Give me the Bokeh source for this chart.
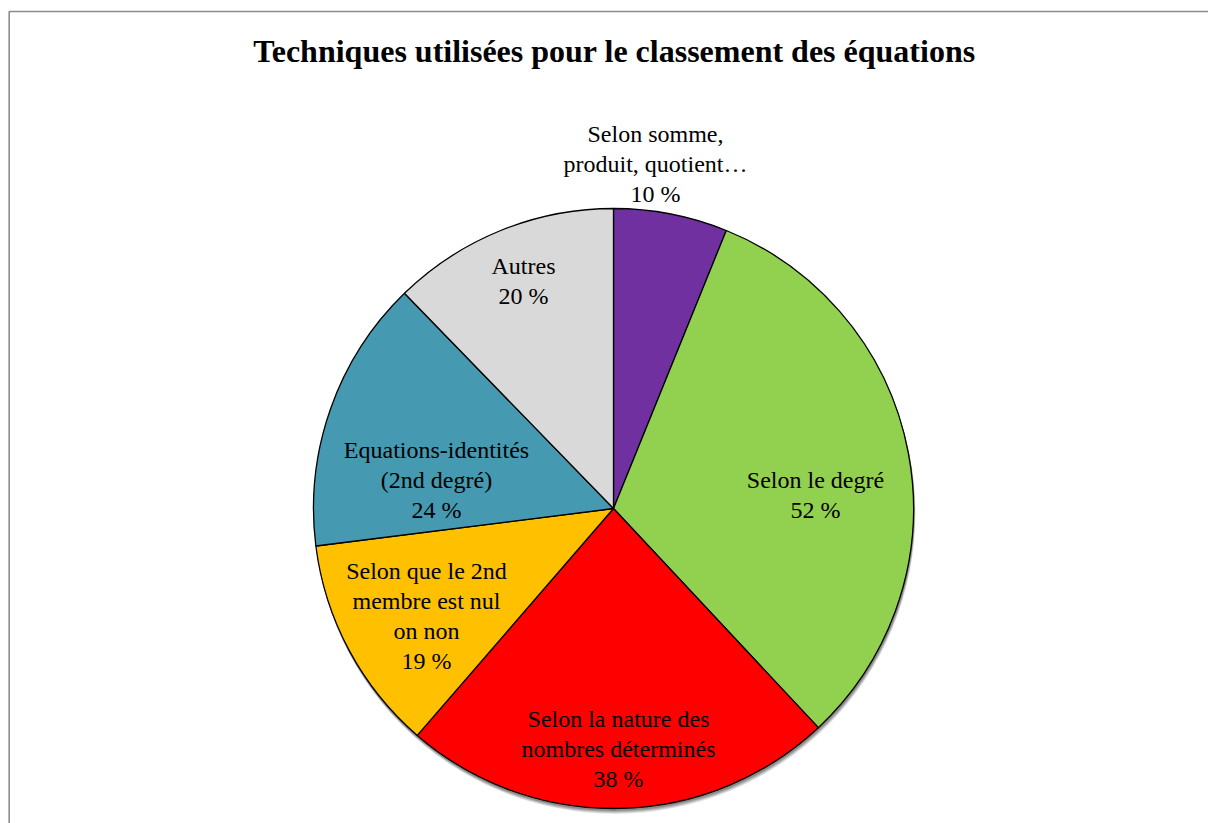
import numpy as np
from bokeh.plotting import figure
from bokeh.models import Range1d, ColumnDataSource
from bokeh.core.properties import value
from bokeh.embed import file_html
from bokeh.resources import INLINE

# ---- data ----
categories = [
    "Selon somme,\nproduit, quotient…",
    "Selon le degré",
    "Selon la nature des\nnombres déterminés",
    "Selon que le 2nd\nmembre est nul\non non",
    "Equations-identités\n(2nd degré)",
    "Autres",
]
percents = [10, 52, 38, 19, 24, 20]
colors = ["#7030A0", "#92D050", "#FF0000", "#FFC000", "#4599B0", "#D9D9D9"]
title_text = "Techniques utilisées pour le classement des équations"

# ---- layout (pixel-like data space) ----
W, H = 1208, 823
CX, CY, R = 613, 315, 300
LINE_H = 30
# label block centre offsets from pie centre (pixels, y up)
label_offsets = [(42, 345), (202, 14), (5, -240), (-187, -107), (-177, 29), (-90, 228)]

vals = np.array(percents, dtype=float)
frac = vals / vals.sum()
cum = np.concatenate([[0], np.cumsum(frac)])
start = np.pi / 2 - cum[1:] * 2 * np.pi
end = np.pi / 2 - cum[:-1] * 2 * np.pi

p = figure(width=W, height=H, output_backend="svg", toolbar_location=None,
           x_range=Range1d(0, W), y_range=Range1d(0, H), min_border=0)
p.axis.visible = False
p.grid.visible = False
p.outline_line_color = None
p.background_fill_color = "white"
p.border_fill_color = "white"

# chart-area border (only left and top edges visible in window)
p.line(x=[8.7, 8.7, W + 10], y=[-10, H - 11, H - 11], line_color="#8C8C8C", line_width=1.6)

# soft shadow under the pie
for off, a in [(5, 0.10), (4, 0.12), (3, 0.15), (2, 0.18)]:
    p.circle(x=[CX + off * 0.3], y=[CY - off], radius=R + 0.5, fill_color="#000000",
             fill_alpha=a, line_color=None)

src = ColumnDataSource(dict(start=start, end=end, color=colors))
p.wedge(x=CX, y=CY, radius=R, start_angle="start", end_angle="end", direction="anticlock",
        fill_color="color", line_color="black", line_width=1.3, source=src)

# labels: one text item per line
tx, ty, tt = [], [], []
for (dx, dy), c, v in zip(label_offsets, categories, percents):
    lines = c.split("\n") + [f"{v} %"]
    n = len(lines)
    for i, ln in enumerate(lines):
        tx.append(CX + dx)
        ty.append(CY + dy + ((n - 1) / 2 - i) * LINE_H)
        tt.append(ln)
p.text(x=tx, y=ty, text=tt, text_font=value("Liberation Serif"), text_font_size="24px",
       text_align="center", text_baseline="middle", text_color="black")

p.text(x=[614], y=[H - 50], text=[title_text], text_font=value("Liberation Serif"),
       text_font_size="32px", text_font_style="bold", text_align="center",
       text_baseline="middle", text_color="black")

open("out.html", "w").write(file_html(p, INLINE))
